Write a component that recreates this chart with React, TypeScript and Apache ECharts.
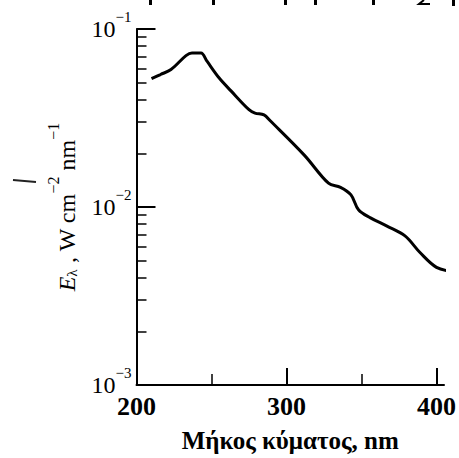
import React, { useEffect, useRef } from 'react';
import * as echarts from 'echarts';

const wavelength = [210, 216, 223, 233, 237, 243, 247, 255, 263, 275, 279, 285, 289, 312, 328, 336, 343, 348, 356, 367, 379, 389, 400, 410];
const irradiance = [0.0526, 0.0555, 0.0592, 0.0708, 0.0733, 0.0733, 0.0659, 0.0532, 0.0449, 0.0352, 0.0337, 0.0329, 0.0306, 0.0195, 0.0136, 0.0129, 0.0117, 0.00966, 0.00869, 0.00781, 0.00688, 0.00555, 0.00458, 0.00436];
const xLabelValues = [200, 300, 400];
const xLongTicks = [300, 400];
const xShortTicks = [250, 350];
const yLabelValues = [0.001, 0.01, 0.1];
const yMajorTicks = [0.01, 0.1];
const yMinorTicks = [0.002, 0.003, 0.004, 0.005, 0.006, 0.007, 0.008, 0.009, 0.02, 0.03, 0.04, 0.05, 0.06, 0.07, 0.08, 0.09];
const xTitle = 'Μήκος κύματος, nm';

const SERIF = '"Liberation Serif", "DejaVu Serif", serif';

export default function App() {
  const ref = useRef<HTMLDivElement>(null);
  useEffect(() => {
    if (!ref.current) return;
    const chart = echarts.init(ref.current, null, { renderer: 'svg' });
    const data = wavelength.map((w, i) => [w, irradiance[i]]);
    const axisLine = { show: true, lineStyle: { color: '#000', width: 2 } };
    chart.setOption({
      animation: false,
      backgroundColor: '#fff',
      grid: { left: 136.5, top: 29, width: 307.5, height: 359, containLabel: false },
      xAxis: [
        {
          type: 'value', min: 200, max: 405, position: 'bottom',
          axisLine,
          splitLine: { show: false },
          axisTick: { show: true, inside: true, length: 17, customValues: xLongTicks, lineStyle: { color: '#000', width: 2 } },
          axisLabel: {
            customValues: xLabelValues, color: '#000', fontFamily: SERIF, fontWeight: 'bold', fontSize: 26, margin: 8,
          },
          name: xTitle, nameLocation: 'middle', nameGap: 43, nameMoveOverlap: false,
          nameTextStyle: { color: '#000', fontFamily: SERIF, fontWeight: 'bold', fontSize: 25 },
        },
        {
          type: 'value', min: 200, max: 405, position: 'bottom',
          axisLine: { show: false },
          splitLine: { show: false },
          axisTick: { show: true, inside: true, length: 11, customValues: xShortTicks, lineStyle: { color: '#000', width: 1.5 } },
          axisLabel: { show: false },
        },
      ],
      yAxis: [
        {
          type: 'log', logBase: 10, min: 0.001, max: 0.1, position: 'left',
          axisLine,
          splitLine: { show: false },
          axisTick: { show: true, inside: true, length: 19, customValues: yMajorTicks, lineStyle: { color: '#000', width: 2 } },
          axisLabel: {
            customValues: yLabelValues, margin: 5,
            formatter: (v: number) => {
              const e = Math.round(Math.log10(v));
              return `{b|10}{s|−${-e}}`;
            },
            rich: {
              b: { fontSize: 24, fontFamily: SERIF, color: '#000', lineHeight: 24 },
              s: { fontSize: 15, fontFamily: SERIF, color: '#000', lineHeight: 15, padding: [0, 0, 24, 0] },
            },
          },
          name: '{e|E}{l|λ}{n| , W cm}{p|−2}{n| nm}{p|−1}',
          nameLocation: 'middle', nameRotate: 90, nameGap: 58, nameMoveOverlap: false,
          nameTextStyle: {
            rich: {
              e: { fontSize: 24, fontFamily: SERIF, fontStyle: 'italic', color: '#000', lineHeight: 24 },
              l: { fontSize: 15, fontFamily: SERIF, color: '#000', lineHeight: 15, padding: [10, 0, 0, 0] },
              n: { fontSize: 24, fontFamily: SERIF, color: '#000', lineHeight: 24 },
              p: { fontSize: 16, fontFamily: SERIF, color: '#000', lineHeight: 16, padding: [0, 0, 26, 0] },
            },
          },
        },
        {
          type: 'log', logBase: 10, min: 0.001, max: 0.1, position: 'left',
          axisLine: { show: false },
          splitLine: { show: false },
          axisTick: { show: true, inside: true, length: 10, customValues: yMinorTicks, lineStyle: { color: '#000', width: 1.5 } },
          axisLabel: { show: false },
        },
      ],
      series: [
        {
          type: 'line', xAxisIndex: 0, yAxisIndex: 0, data, showSymbol: false, smooth: 0.35, clip: false,
          lineStyle: { color: '#000', width: 3 },
        },
      ],
      graphic: [
        { type: 'rect', shape: { x: 149, y: 0, width: 3, height: 5 }, style: { fill: '#000' } },
        { type: 'rect', shape: { x: 212, y: 0, width: 3, height: 5 }, style: { fill: '#000' } },
        { type: 'rect', shape: { x: 284, y: 0, width: 3, height: 5 }, style: { fill: '#000' } },
        { type: 'rect', shape: { x: 314, y: 0, width: 3, height: 5 }, style: { fill: '#000' } },
        { type: 'rect', shape: { x: 372, y: 0, width: 3, height: 5 }, style: { fill: '#000' } },
        { type: 'rect', shape: { x: 452, y: 0, width: 3, height: 6 }, style: { fill: '#000' } },
        { type: 'polyline', shape: { points: [[424, 0], [419, 4], [430, 4]] }, style: { stroke: '#000', lineWidth: 2, fill: 'none' } },
        { type: 'line', shape: { x1: 13, y1: 180, x2: 36, y2: 182 }, style: { stroke: '#222', lineWidth: 2 } },
      ],
    });
    return () => chart.dispose();
  }, []);
  return <div ref={ref} style={{ position: 'fixed', left: 0, top: 0, width: 459, height: 458 }} />;
}
